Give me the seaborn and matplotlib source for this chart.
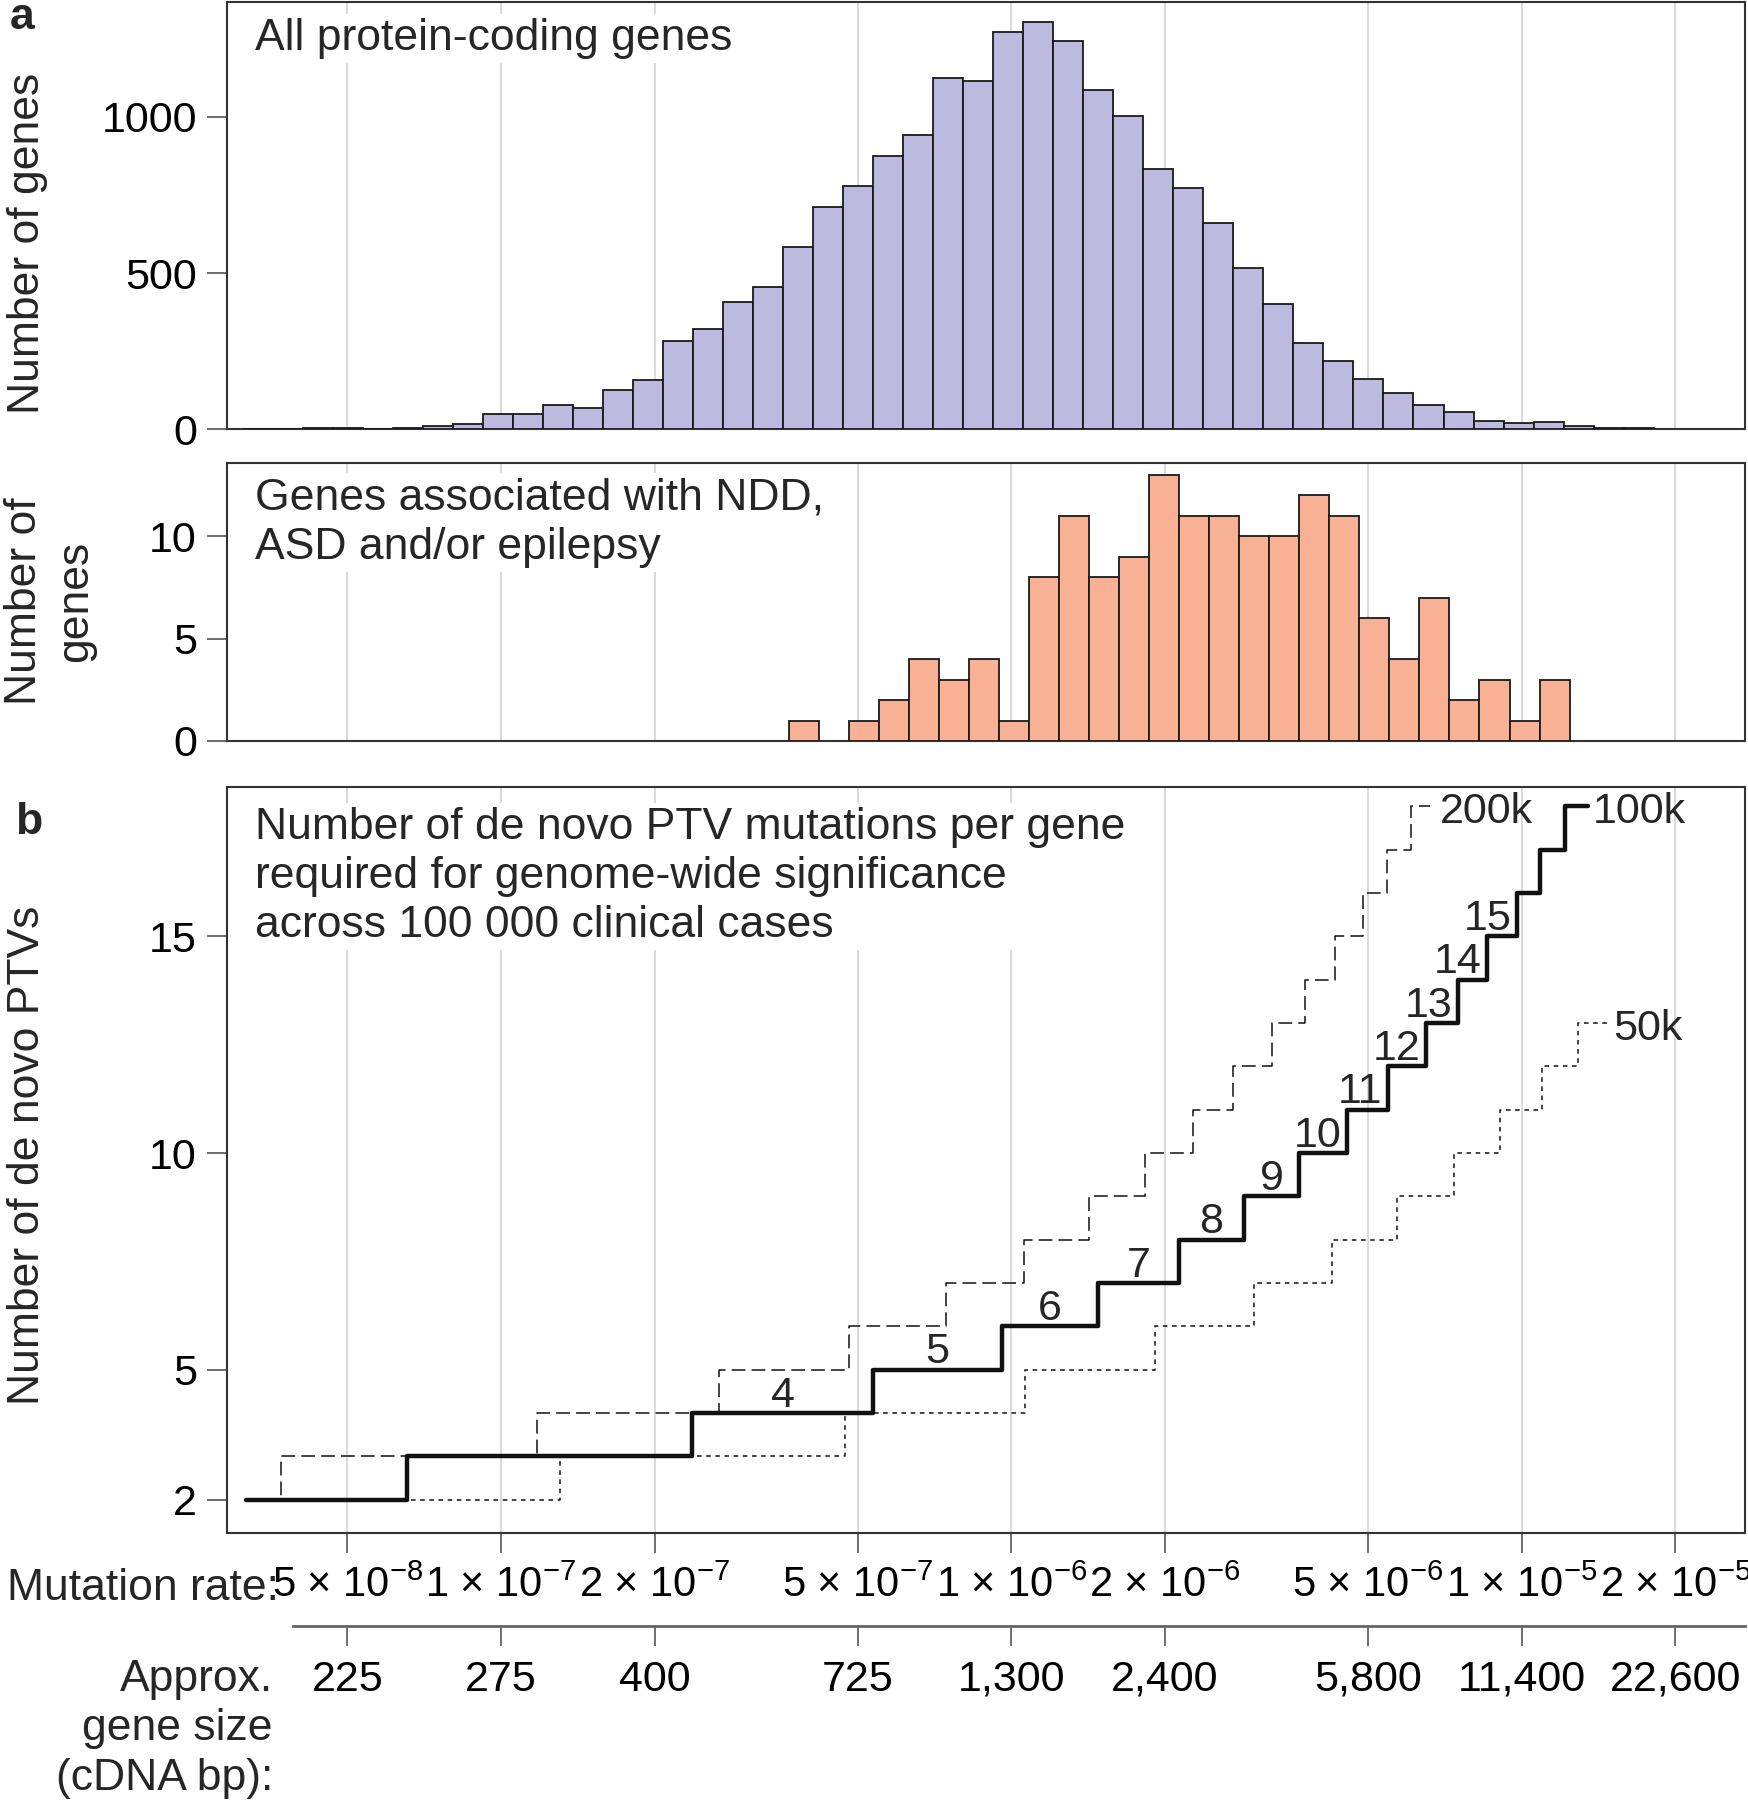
import numpy as np
import pandas as pd
import matplotlib
matplotlib.use("Agg")
import matplotlib.pyplot as plt
from matplotlib.ticker import NullLocator, FixedLocator
import seaborn as sns

# ------------------------------------------------------------------ data
# Panel a (top): all protein-coding genes, histogram counts per log10 bin
all_gene_counts = [1, 1, 3, 3, 2, 5, 12, 17, 49, 49, 77, 69, 126, 159, 283, 320,
                   407, 455, 584, 712, 778, 875, 941, 1124, 1114, 1270, 1302, 1242,
                   1086, 1001, 833, 771, 659, 515, 400, 277, 220, 162, 115, 77, 54,
                   28, 21, 23, 12, 4, 3]
all_bin_start_log10 = -7.506          # left edge of first bin (log10 mutation rate)

# Panel a (bottom): genes associated with NDD, ASD and/or epilepsy
ndd_gene_counts = [1, 0, 1, 2, 4, 3, 4, 1, 8, 11, 8, 9, 13, 11, 11, 10, 10, 12,
                   11, 6, 4, 7, 2, 3, 1, 3]
ndd_bin_start_log10 = -6.4355
bin_width_log10 = 1 / 17              # decades per bin

# Shared axis ticks
tick_rates = [5e-8, 1e-7, 2e-7, 5e-7, 1e-6, 2e-6, 5e-6, 1e-5, 2e-5]
rate_labels = [r"5 × $\mathregular{10^{-8}}$", r"1 × $\mathregular{10^{-7}}$",
               r"2 × $\mathregular{10^{-7}}$", r"5 × $\mathregular{10^{-7}}$",
               r"1 × $\mathregular{10^{-6}}$", r"2 × $\mathregular{10^{-6}}$",
               r"5 × $\mathregular{10^{-6}}$", r"1 × $\mathregular{10^{-5}}$",
               r"2 × $\mathregular{10^{-5}}$"]
gene_size_labels = ["225", "275", "400", "725", "1,300", "2,400", "5,800",
                    "11,400", "22,600"]

# Panel b: mutation rate at which the required number of de novo PTVs steps up
levels_100k = [2, 3, 4, 5, 6, 7, 8, 9, 10, 11, 12, 13, 14, 15, 16, 17, 18]
rates_100k = [3.16e-8, 6.53e-8, 2.37e-7, 5.35e-7, 9.59e-7, 1.48e-6, 2.13e-6,
              2.86e-6, 3.67e-6, 4.55e-6, 5.47e-6, 6.49e-6, 7.50e-6, 8.56e-6,
              9.80e-6, 1.086e-5, 1.218e-5]
end_100k = 1.347e-5

levels_200k = [2, 3, 4, 5, 6, 7, 8, 9, 10, 11, 12, 13, 14, 15, 16, 17, 18]
rates_200k = [3.16e-8, 3.71e-8, 1.179e-7, 2.68e-7, 4.80e-7, 7.46e-7, 1.058e-6,
              1.423e-6, 1.824e-6, 2.267e-6, 2.725e-6, 3.24e-6, 3.766e-6, 4.31e-6,
              4.88e-6, 5.44e-6, 6.07e-6]
end_200k = 6.61e-6

levels_50k = [2, 3, 4, 5, 6, 7, 8, 9, 10, 11, 12, 13]
rates_50k = [3.16e-8, 1.306e-7, 4.72e-7, 1.064e-6, 1.91e-6, 2.985e-6, 4.25e-6,
             5.71e-6, 7.36e-6, 9.06e-6, 1.094e-5, 1.291e-5]
end_50k = 1.476e-5

step_number_labels = list(range(4, 16))

# ------------------------------------------------------------------ style
sns.set_theme(style="white")
plt.rcParams["font.family"] = ["Liberation Sans", "DejaVu Sans"]
plt.rcParams["mathtext.fontset"] = "custom"
plt.rcParams["mathtext.rm"] = "Liberation Sans"
plt.rcParams["mathtext.it"] = "Liberation Sans:italic"
plt.rcParams["mathtext.bf"] = "Liberation Sans:bold"

PURPLE = "#BDBADF"
ORANGE = "#F8B194"
SPINE = "#333333"
TICKC = "#555555"
GRID = "#d9d9d9"
FS = 32

W, H = 1749, 1800
fig = plt.figure(figsize=(W / 100, H / 100), dpi=100)


def axpos(x0, y0, x1, y1):
    return [x0 / W, 1 - y1 / H, (x1 - x0) / W, (y1 - y0) / H]


def fx(px):
    return px / W


def fy(py):
    return 1 - py / H


XL, XR = 226.7, 1745.5
ax1 = fig.add_axes(axpos(XL, 2, XR, 429.3))
ax2 = fig.add_axes(axpos(XL, 462.7, XR, 741))
ax3 = fig.add_axes(axpos(XL, 787, XR, 1533))
xlim = (10 ** -7.5375, 10 ** -4.5613)

# ---- histograms
edges_all = [float(v) for v in
             all_bin_start_log10 + bin_width_log10 * np.arange(len(all_gene_counts) + 1)]
df_all = pd.DataFrame({"rate": 10 ** (np.array(edges_all[:-1]) + bin_width_log10 / 2),
                       "n": all_gene_counts})
sns.histplot(data=df_all, x="rate", weights="n", bins=edges_all, log_scale=True,
             color=PURPLE, alpha=1, edgecolor="#1a1a1a", linewidth=1.3, ax=ax1,
             zorder=3)

edges_ndd = [float(v) for v in
             ndd_bin_start_log10 + bin_width_log10 * np.arange(len(ndd_gene_counts) + 1)]
df_ndd = pd.DataFrame({"rate": 10 ** (np.array(edges_ndd[:-1]) + bin_width_log10 / 2),
                       "n": ndd_gene_counts})
sns.histplot(data=df_ndd, x="rate", weights="n", bins=edges_ndd, log_scale=True,
             color=ORANGE, alpha=1, edgecolor="#1a1a1a", linewidth=1.3, ax=ax2,
             zorder=3)
# hide zero-height bars (no outline for empty bins)
for p in ax2.patches:
    if p.get_height() == 0:
        p.set_visible(False)

# ---- step lines
ax3.set_xscale("log")
for rates, end, levels, style, lw in [
    (rates_200k, end_200k, levels_200k, (0, (9, 4)), 1.1),
    (rates_50k, end_50k, levels_50k, (0, (3, 3)), 1.1),
    (rates_100k, end_100k, levels_100k, "-", 3.2),
]:
    xs = list(rates) + [end]
    ys = list(levels) + [levels[-1]]
    sns.lineplot(x=xs, y=ys, drawstyle="steps-post", color="#111111",
                 linestyle=style, linewidth=lw, ax=ax3, estimator=None,
                 sort=False, legend=False, zorder=4 if lw > 2 else 3)

# step number labels on the 100k line
for n in step_number_labels:
    i = levels_100k.index(n)
    x0, x1 = rates_100k[i], rates_100k[i + 1]
    if n < 10:
        ax3.annotate(str(n), xy=(np.sqrt(x0 * x1), n), xytext=(0, 4.5),
                     textcoords="offset points", ha="center", va="baseline",
                     fontsize=31, zorder=5)
    else:
        ax3.annotate(str(n), xy=(x1, n), xytext=(-4, 4.5),
                     textcoords="offset points", ha="right", va="baseline",
                     fontsize=31, zorder=5)

for end, lev, lab, dx in [(end_200k, levels_200k[-1], "200k", 7),
                          (end_100k, levels_100k[-1], "100k", 4),
                          (end_50k, levels_50k[-1], "50k", 3.5)]:
    ax3.annotate(lab, xy=(end, lev), xytext=(dx, -1), textcoords="offset points",
                 ha="left", va="center_baseline", fontsize=31, zorder=5)

# ---- axes styling
for ax in (ax1, ax2, ax3):
    ax.set_xscale("log")
    ax.set_xlim(*xlim)
    ax.xaxis.set_major_locator(FixedLocator(tick_rates))
    ax.xaxis.set_minor_locator(NullLocator())
    ax.grid(axis="x", color=GRID, linewidth=1.4)
    ax.grid(axis="y", visible=False)
    ax.set_axisbelow(True)
    ax.set_xlabel("")
    ax.set_ylabel("")
    for sp in ax.spines.values():
        sp.set_visible(True)
        sp.set_color(SPINE)
        sp.set_linewidth(1.5)
    ax.tick_params(axis="y", left=True, length=14.4, width=1.2, color=TICKC,
                   pad=7, labelsize=31, labelcolor="black")

for ax in (ax1, ax2):
    ax.tick_params(axis="x", bottom=False, labelbottom=False, length=0)

ax1.set_ylim(0, 1367)
ax1.set_yticks([0, 500, 1000])
ax2.set_ylim(0, 13.58)
ax2.set_yticks([0, 5, 10])
ax3.set_ylim(1.227, 18.45)
ax3.set_yticks([2, 5, 10, 15])

ax3.set_xticks(tick_rates)
ax3.set_xticklabels(rate_labels)
ax3.tick_params(axis="x", bottom=True, length=14.4, width=1.2, color=TICKC,
                pad=9, labelsize=30, labelcolor="black")

# ---- gene-size secondary axis
ax4 = fig.add_axes(axpos(XL, 1625, XR, 1626))
ax4.set_xscale("log")
ax4.set_xlim(*xlim)
ax4.set_ylim(0, 1)
ax4.patch.set_visible(False)
for k, sp in ax4.spines.items():
    sp.set_visible(k == "bottom")
ax4.spines["bottom"].set_color("#666666")
ax4.spines["bottom"].set_linewidth(2.0)
ax4.spines["bottom"].set_bounds(10 ** -7.4076, xlim[1])
ax4.xaxis.set_major_locator(FixedLocator(tick_rates))
ax4.xaxis.set_minor_locator(NullLocator())
ax4.set_xticklabels(gene_size_labels)
ax4.set_yticks([])
ax4.tick_params(axis="x", bottom=True, length=14.4, width=1.2, color=TICKC,
                pad=10, labelsize=31, labelcolor="black")
ax4.grid(False)

# ---- panel texts (va='baseline' on multi-line text anchors the last line)
box = dict(facecolor="white", edgecolor="none", pad=3)
ax1.text(fx(255), fy(50), "All protein-coding genes", transform=fig.transFigure,
         ha="left", va="baseline", fontsize=FS, bbox=box, zorder=2.5)
ax2.text(fx(255), fy(559), "Genes associated with NDD,\nASD and/or epilepsy",
         transform=fig.transFigure, ha="left", va="baseline", fontsize=FS,
         linespacing=1.28, bbox=box, zorder=2.5)
ax3.text(fx(255), fy(937),
         "Number of de novo PTV mutations per gene\n"
         "required for genome-wide significance\n"
         "across 100 000 clinical cases",
         transform=fig.transFigure, ha="left", va="baseline", fontsize=FS,
         linespacing=1.25, bbox=box, zorder=2.5)

fig.text(fx(10), fy(29), "a", fontsize=32, fontweight="bold", ha="left",
         va="baseline")
fig.text(fx(15), fy(834), "b", fontsize=32, fontweight="bold", ha="left",
         va="baseline")

fig.text(fx(28), fy(243), "Number of genes", rotation=90, ha="center",
         va="center", fontsize=FS)
fig.text(fx(50), fy(601), "Number of\ngenes", rotation=90, ha="center",
         va="center", fontsize=FS, linespacing=1.3)
fig.text(fx(28), fy(1155), "Number of de novo PTVs", rotation=90, ha="center",
         va="center", fontsize=FS)

fig.text(fx(279), fy(1600), "Mutation rate:", ha="right", va="baseline",
         fontsize=FS)
fig.text(fx(273), fy(1790), "Approx.\ngene size\n(cDNA bp):", ha="right",
         va="baseline", multialignment="right", fontsize=FS, linespacing=1.27)

fig.savefig("out.png", dpi=100, facecolor="white")
